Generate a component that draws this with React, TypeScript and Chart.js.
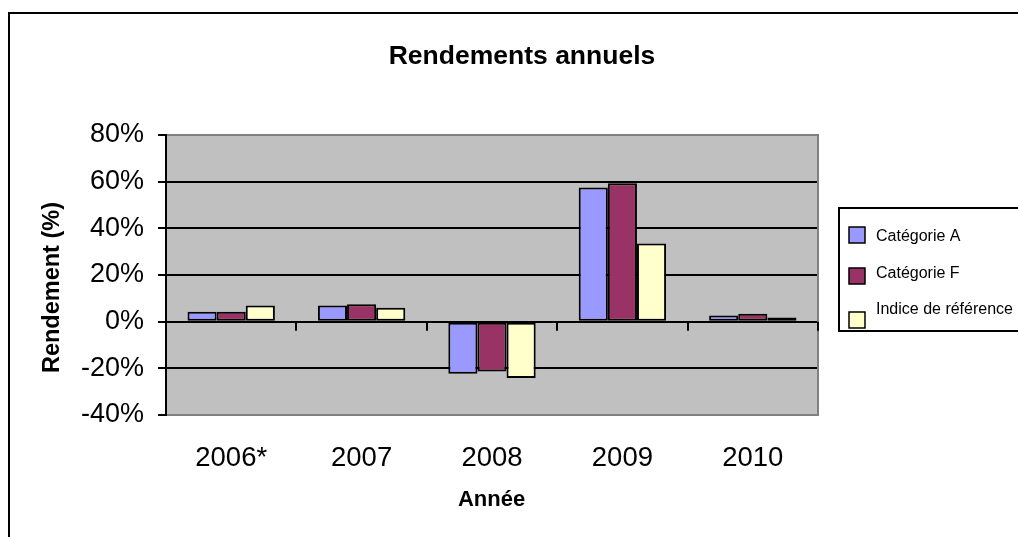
import React, { useEffect, useRef } from "react";
import { Chart, registerables } from "chart.js";

Chart.register(...registerables);

const categories = ["2006*", "2007", "2008", "2009", "2010"];
const seriesNames = ["Catégorie A", "Catégorie F", "Indice de référence"];
const categorieA = [4.3, 6.9, -22.3, 57.5, 2.6];
const categorieF = [4.3, 7.5, -21.4, 59.3, 3.4];
const indiceRef = [6.9, 6.0, -24.1, 33.5, 1.8];
const seriesColors = ["#9999FF", "#993366", "#FFFFCC"];
const yMin = -40;
const yMax = 80;
const yStep = 20;
const chartTitle = "Rendements annuels";
const yTitle = "Rendement (%)";
const xTitle = "Année";

const FONT = "'Liberation Sans', Arial, sans-serif";

const decor = {
  id: "decor",
  beforeDraw(chart: any) {
    const { ctx, chartArea: a } = chart;
    ctx.save();
    ctx.fillStyle = "#ffffff";
    ctx.fillRect(0, 0, chart.width, chart.height);
    ctx.fillStyle = "#C0C0C0";
    ctx.fillRect(a.left, a.top, a.right - a.left, a.bottom - a.top);
    ctx.restore();
  },
  afterDraw(chart: any) {
    const { ctx, chartArea: a, scales } = chart;
    ctx.save();
    // plot border (top, right, bottom)
    ctx.strokeStyle = "#808080";
    ctx.lineWidth = 2;
    ctx.beginPath();
    ctx.moveTo(a.left, a.top);
    ctx.lineTo(a.right, a.top);
    ctx.lineTo(a.right, a.bottom);
    ctx.lineTo(a.left, a.bottom);
    ctx.stroke();
    // y axis line
    ctx.strokeStyle = "#000";
    ctx.beginPath();
    ctx.moveTo(a.left, a.top - 1);
    ctx.lineTo(a.left, a.bottom + 1);
    ctx.stroke();
    // category tick marks on zero line
    const x = scales.x;
    const y0 = scales.y.getPixelForValue(0);
    const half = (x.getPixelForValue(1) - x.getPixelForValue(0)) / 2;
    ctx.beginPath();
    for (let i = 0; i <= categories.length; i++) {
      const px = Math.round(x.getPixelForValue(i) - half);
      ctx.moveTo(px, y0);
      ctx.lineTo(px, y0 + 9);
    }
    ctx.stroke();

    // outer border
    ctx.strokeStyle = "#000";
    ctx.lineWidth = 2;
    ctx.strokeRect(9, 13, 1200, 700);

    // title
    ctx.fillStyle = "#000";
    ctx.font = `bold 26.5px ${FONT}`;
    ctx.textAlign = "center";
    ctx.textBaseline = "alphabetic";
    ctx.fillText(chartTitle, 522, 64);

    // x title
    ctx.font = `bold 22px ${FONT}`;
    ctx.fillText(xTitle, 491.5, 506);

    // y title
    ctx.save();
    ctx.translate(59, 287.5);
    ctx.rotate(-Math.PI / 2);
    ctx.font = `bold 23.5px ${FONT}`;
    ctx.fillText(yTitle, 0, 0);
    ctx.restore();

    // legend
    ctx.lineWidth = 2;
    ctx.strokeRect(839, 208, 250, 123);
    const markY = [235, 276, 320];
    const textY = [237, 274, 310];
    ctx.font = `16px ${FONT}`;
    ctx.textAlign = "left";
    ctx.textBaseline = "middle";
    chart.data.datasets.forEach((ds: any, i: number) => {
      ctx.fillStyle = ds.backgroundColor;
      ctx.fillRect(849, markY[i] - 8, 16, 16);
      ctx.lineWidth = 1.5;
      ctx.strokeStyle = "#000";
      ctx.strokeRect(849, markY[i] - 8, 16, 16);
      ctx.fillStyle = "#000";
      ctx.fillText(ds.label, 876, textY[i]);
    });
    ctx.restore();
  },
};

export default function App() {
  const ref = useRef<HTMLCanvasElement>(null);
  useEffect(() => {
    if (!ref.current) return;
    const values = [categorieA, categorieF, indiceRef];
    const chart = new Chart(ref.current, {
      type: "bar",
      data: {
        labels: categories,
        datasets: values.map((v, i) => ({
          label: seriesNames[i],
          data: v,
          backgroundColor: seriesColors[i],
          borderColor: "#000",
          borderWidth: 2,
          borderSkipped: false,
          categoryPercentage: 0.67,
          barPercentage: 1.0,
        })),
      },
      options: {
        responsive: false,
        animation: false,
        layout: { padding: { top: 135, right: 200, bottom: 0, left: 0 } },
        plugins: {
          legend: { display: false },
          title: { display: false },
          tooltip: { enabled: false },
        },
        scales: {
          x: {
            grid: { display: false },
            border: { display: false },
            ticks: {
              color: "#000",
              font: { family: FONT, size: 27.5 },
              padding: 19,
              maxRotation: 0,
            },
            afterFit(scale: any) {
              scale.height = 122;
            },
          },
          y: {
            min: yMin,
            max: yMax,
            border: { display: false },
            grid: {
              color: (c: any) =>
                c.tick && (c.tick.value === yMin || c.tick.value === yMax) ? "#808080" : "#000",
              tickColor: "#000",
              lineWidth: 2,
              tickLength: 8,
            },
            ticks: {
              stepSize: yStep,
              color: "#000",
              font: { family: FONT, size: 27 },
              padding: 14,
              callback: (v: any) => `${v}%`,
            },
            afterFit(scale: any) {
              scale.width = 166;
            },
          },
        },
      },
      plugins: [decor],
    });
    return () => chart.destroy();
  }, []);
  return (
    <div style={{ position: "fixed", left: 0, top: 0, width: 1018, height: 537 }}>
      <canvas ref={ref} width={1018} height={537} />
    </div>
  );
}
